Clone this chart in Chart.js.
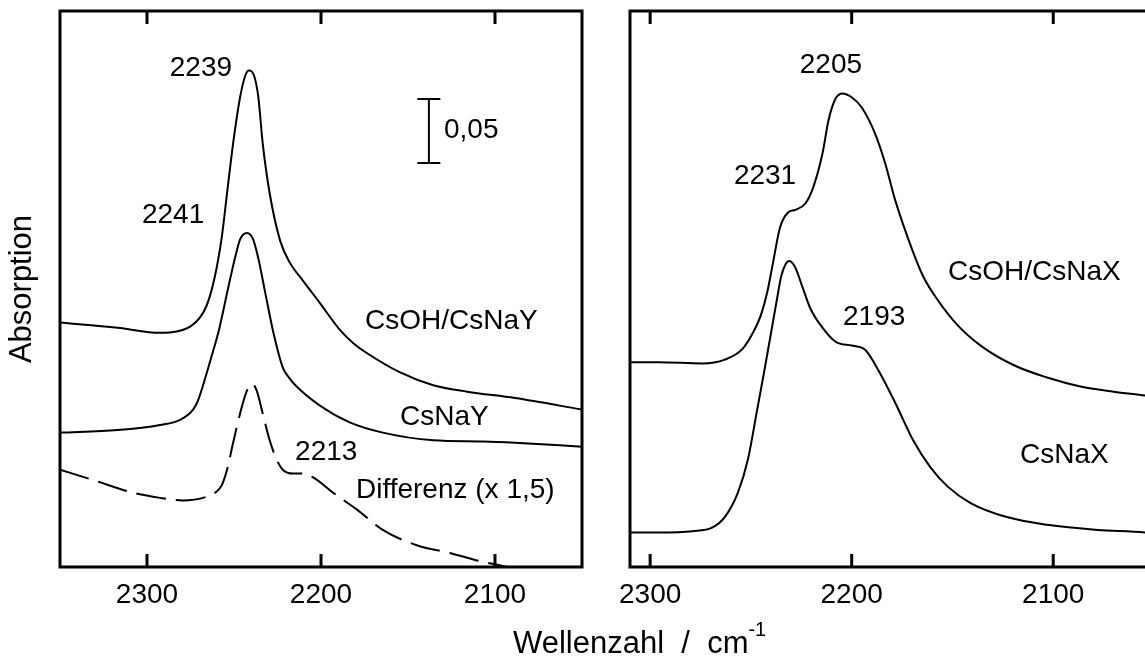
<!DOCTYPE html>
<html>
<head>
<meta charset="utf-8">
<title>CO an CsNaY / CsNaX</title>
<script src="https://cdn.jsdelivr.net/npm/chart.js@4.4.1/dist/chart.umd.min.js"></script>
<style>
  html, body { margin: 0; padding: 0; background: #fff; overflow: hidden; }
  #page { position: relative; width: 1145px; height: 659px; overflow: hidden; font-family: "Liberation Sans", Arial, sans-serif; }
  #leftChart { position: absolute; left: 0; top: 0; }
  #rightChart { position: absolute; left: 570px; top: 0; }
  #xTitle { position: absolute; left: 513px; top: 627px; font-size: 31px; line-height: 1; white-space: pre; color: #000; }
  #xTitle span { font-size: 20px; position: relative; top: -17px; }
</style>
</head>
<body>
<div id="page">
  <canvas id="leftChart" width="600" height="659"></canvas>
  <canvas id="rightChart" width="590" height="659"></canvas>
  <div id="xTitle">Wellenzahl  /  cm<span>-1</span></div>
</div>
<script>
const FONT = '"Liberation Sans", Arial, sans-serif';

// linkes Bild (Y-Zeolith)
const leftTicks = [2300, 2200, 2100];

const csohYWave = [2350, 2317, 2292.5, 2283, 2275, 2269.5, 2265.5, 2261, 2257, 2254, 2250.5, 2246.5,
  2243.5, 2241.5, 2238.5, 2236, 2233.5, 2229.5, 2223.5, 2218, 2210.5, 2200.5, 2189, 2181.6,
  2173.5, 2154.5, 2135.5, 2116, 2088.5, 2050];
const csohYAbs = [0.191, 0.187, 0.183, 0.184, 0.188, 0.195, 0.205, 0.227, 0.258, 0.292, 0.331, 0.367,
  0.384, 0.388, 0.384, 0.367, 0.331, 0.292, 0.255, 0.238, 0.224, 0.206, 0.185, 0.175,
  0.167, 0.152, 0.142, 0.137, 0.132, 0.123];

const csnayWave = [2350, 2317, 2292.5, 2281, 2273.5, 2270.7, 2268, 2263, 2258.5, 2254, 2249.5, 2246.5,
  2242.5, 2239, 2236, 2232, 2227.5, 2222, 2218.4, 2214, 2200.5, 2183.5, 2164.5, 2135.5, 2107,
  2088.5, 2050];
const csnayAbs = [0.105, 0.107, 0.111, 0.115, 0.123, 0.130, 0.141, 0.164, 0.186, 0.214, 0.241, 0.256,
  0.261, 0.256, 0.241, 0.214, 0.184, 0.156, 0.148, 0.141, 0.126, 0.113, 0.105, 0.099, 0.098,
  0.097, 0.094];

const diffWave = [2350, 2331, 2308, 2292.5, 2279.5, 2265.5, 2260, 2257, 2254, 2250.5, 2246.5, 2242.5,
  2239.5, 2237, 2233.5, 2229.5, 2225.5, 2222, 2216, 2210.5, 2204.5, 2193, 2179.5, 2164.5,
  2145, 2126, 2107, 2088.5, 2074];
const diffAbs = [0.076, 0.068, 0.058, 0.054, 0.052, 0.055, 0.059, 0.064, 0.076, 0.097, 0.120, 0.138,
  0.143, 0.138, 0.120, 0.099, 0.084, 0.076, 0.073, 0.073, 0.070, 0.058, 0.045, 0.029,
  0.017, 0.011, 0.004, -0.001, -0.005];

// rechtes Bild (X-Zeolith)
const rightTicks = [2300, 2200, 2100];

const csohXWave = [2310, 2296, 2274, 2263, 2254.4, 2249, 2245, 2242, 2239, 2235.6, 2231.6, 2228,
  2223, 2219, 2214.5, 2211.5, 2208, 2204.5, 2200, 2195, 2188.5, 2183.5, 2178.5, 2170,
  2164.5, 2157.5, 2147.5, 2136, 2120, 2103, 2086.5, 2070, 2054.5, 2050];
const csohXAbs = [0.160, 0.160, 0.159, 0.162, 0.170, 0.183, 0.197, 0.214, 0.238, 0.265, 0.277, 0.279,
  0.284, 0.297, 0.323, 0.349, 0.366, 0.370, 0.367, 0.359, 0.339, 0.316, 0.287, 0.248,
  0.227, 0.209, 0.189, 0.173, 0.158, 0.148, 0.141, 0.137, 0.134, 0.133];

const csnaxWave = [2310, 2296, 2279, 2269, 2263, 2256.5, 2251.5, 2247, 2243.5, 2240, 2237, 2235,
  2233, 2231, 2228, 2224.5, 2220.5, 2214.5, 2208, 2200, 2193.5, 2186.5, 2178, 2169.5,
  2161, 2152.5, 2141, 2123, 2103, 2078, 2054.5, 2050];
const csnaxAbs = [0.027, 0.027, 0.028, 0.031, 0.039, 0.058, 0.084, 0.122, 0.152, 0.183, 0.210, 0.227,
  0.236, 0.239, 0.234, 0.219, 0.202, 0.187, 0.176, 0.173, 0.170, 0.153, 0.127, 0.099,
  0.078, 0.063, 0.050, 0.039, 0.033, 0.029, 0.027, 0.026];

// Beschriftungen: Text, Wellenzahl, Absorption, Ausrichtung
const leftNotes = [
  ["2239", 2269, 0.390, "center"],
  ["2241", 2285, 0.275, "center"],
  ["0,05", 2129.3, 0.341, "left"],
  ["CsOH/CsNaY", 2174.7, 0.192, "left"],
  ["CsNaY", 2154.6, 0.117, "left"],
  ["2213", 2214.9, 0.090, "left"],
  ["Differenz (x 1,5)", 2179.9, 0.060, "left"]
];
const rightNotes = [
  ["2205", 2210.3, 0.392, "center"],
  ["2231", 2243, 0.305, "center"],
  ["CsOH/CsNaX", 2152.2, 0.2305, "left"],
  ["2193", 2204.3, 0.195, "left"],
  ["CsNaX", 2116.5, 0.0875, "left"]
];

const scaleBar = { wave: 2138, low: 0.3156, size: 0.05 };

function toXY(wave, abs) {
  return wave.map((w, i) => ({ x: w, y: abs[i] }));
}

function curve(wave, abs, dash) {
  return {
    data: toXY(wave, abs),
    borderColor: "#000",
    borderWidth: 2,
    borderDash: dash || [],
    pointRadius: 0,
    fill: false,
    cubicInterpolationMode: "monotone"
  };
}

const framePlugin = {
  id: "frame",
  afterDatasetsDraw(chart, args, opts) {
    const { ctx, chartArea: a, scales } = chart;
    const x = scales.x, y = scales.y;
    ctx.save();
    ctx.strokeStyle = "#000";
    ctx.fillStyle = "#000";

    ctx.lineWidth = 3;
    ctx.beginPath();
    if (opts.closed) {
      ctx.rect(a.left, a.top, a.right - a.left, a.bottom - a.top);
    } else {
      ctx.moveTo(a.right, a.top);
      ctx.lineTo(a.left, a.top);
      ctx.lineTo(a.left, a.bottom);
      ctx.lineTo(a.right, a.bottom);
    }
    x.ticks.forEach(t => {
      const px = x.getPixelForValue(t.value);
      ctx.moveTo(px, a.bottom);
      ctx.lineTo(px, a.bottom - 13);
      ctx.moveTo(px, a.top);
      ctx.lineTo(px, a.top + 13);
    });
    ctx.stroke();

    if (opts.bar) {
      const bx = x.getPixelForValue(opts.bar.wave);
      const y0 = y.getPixelForValue(opts.bar.low);
      const y1 = y.getPixelForValue(opts.bar.low + opts.bar.size);
      ctx.lineWidth = 2;
      ctx.beginPath();
      ctx.moveTo(bx, y0); ctx.lineTo(bx, y1);
      ctx.moveTo(bx - 11.5, y0); ctx.lineTo(bx + 11.5, y0);
      ctx.moveTo(bx - 11.5, y1); ctx.lineTo(bx + 11.5, y1);
      ctx.stroke();
    }

    ctx.font = "28px " + FONT;
    ctx.textBaseline = "middle";
    opts.notes.forEach(([text, w, v, align]) => {
      ctx.textAlign = align;
      ctx.fillText(text, x.getPixelForValue(w), y.getPixelForValue(v));
    });
    ctx.restore();
  }
};

function panelOptions(min, max, ticks, padRight, title, frameOpts) {
  return {
    responsive: false,
    devicePixelRatio: 1,
    animation: false,
    layout: { padding: { left: 0, right: padRight, top: 11, bottom: 0 } },
    plugins: { legend: { display: false }, tooltip: { enabled: false }, frame: frameOpts },
    scales: {
      x: {
        type: "linear",
        reverse: true,
        min: min,
        max: max,
        afterBuildTicks: s => { s.ticks = ticks.map(v => ({ value: v })); },
        afterFit: s => { s.height = 92; },
        grid: { display: false, drawTicks: false },
        border: { display: false },
        ticks: {
          color: "#000",
          font: { size: 28, family: FONT },
          padding: 11,
          maxRotation: 0,
          autoSkip: false,
          callback: v => String(v)
        }
      },
      y: {
        type: "linear",
        min: 0,
        max: 0.4344,
        afterFit: s => { s.width = 60; },
        grid: { display: false },
        border: { display: false },
        ticks: { display: false },
        title: { display: !!title, text: title, color: "#000", font: { size: 31, family: FONT } }
      }
    }
  };
}

window.onload = function () {
  new Chart(document.getElementById("leftChart"), {
    type: "line",
    data: {
      datasets: [
        curve(csohYWave, csohYAbs),
        curve(csnayWave, csnayAbs),
        curve(diffWave, diffAbs, [30, 10])
      ]
    },
    options: panelOptions(2050, 2350, leftTicks, 18, "Absorption",
      { closed: true, notes: leftNotes, bar: scaleBar }),
    plugins: [framePlugin]
  });

  new Chart(document.getElementById("rightChart"), {
    type: "line",
    data: {
      datasets: [
        curve(csohXWave, csohXAbs),
        curve(csnaxWave, csnaxAbs)
      ]
    },
    options: panelOptions(2050, 2310, rightTicks, 6, "",
      { closed: false, notes: rightNotes, bar: null }),
    plugins: [framePlugin]
  });
};
</script>
</body>
</html>
